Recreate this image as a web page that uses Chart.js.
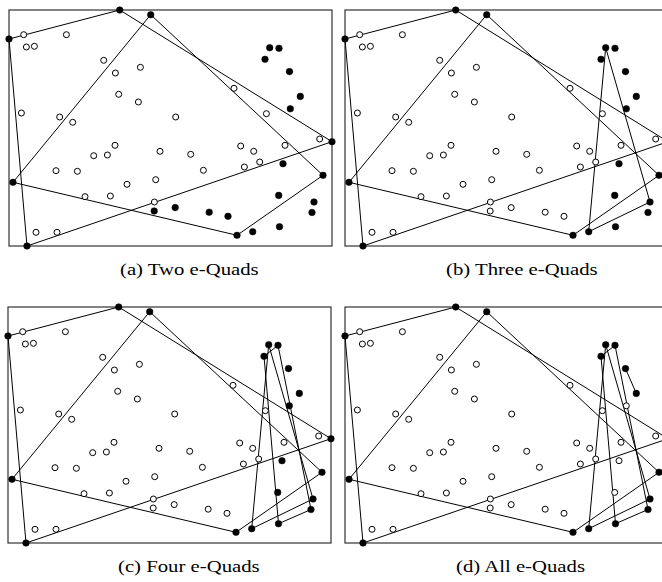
<!DOCTYPE html>
<html>
<head>
<meta charset="utf-8">
<title>e-Quads</title>
<script src="https://cdn.jsdelivr.net/npm/chart.js@4.4.0/dist/chart.umd.min.js"></script>
<style>
  html, body { margin: 0; padding: 0; background: #fff; overflow: hidden; }
  body { width: 662px; height: 582px; position: relative; }
  canvas { position: absolute; }
  .cap { position: absolute; font-family: "Liberation Serif", "Times New Roman", serif; font-size: 17px;
         line-height: 17px; color: #000; white-space: nowrap; transform-origin: 0 0; transform: scaleX(1.22); }
</style>
</head>
<body>

<canvas id="pa" width="335" height="248" style="left:3px;top:4px"></canvas>
<canvas id="pb" width="335" height="248" style="left:339px;top:4px"></canvas>
<canvas id="pc" width="335" height="248" style="left:2px;top:301px"></canvas>
<canvas id="pd" width="335" height="248" style="left:339px;top:301px"></canvas>

<div class="cap" style="left:120px;top:261px">(a) Two e-Quads</div>
<div class="cap" style="left:446px;top:261px">(b) Three e-Quads</div>
<div class="cap" style="left:118px;top:558px">(c) Four e-Quads</div>
<div class="cap" style="left:456px;top:558px">(d) All e-Quads</div>

<script>
// point set, same in every panel (x, y)
const openPts = [
  [14.7,211.3],[57.4,211.3],[17.4,199],[25.4,199.7],[94.7,185.7],[106.4,173],[131.4,178.7],
  [109.7,151.7],[129.4,144],[12.4,133],[50.7,129],[63.7,123.7],[225,157.7],[166.7,129],
  [257.4,132.3],[106,100.7],[84.7,90.3],[98.4,91],[151,94.7],[181.7,91.7],[231.7,100],
  [244.7,94.7],[276,100.7],[310.7,107],[47,75.3],[68.4,74.7],[194.4,75.7],[235.4,79],
  [250.7,84],[146.7,66.3],[118,61.7],[76,49.3],[101.4,50],[145.4,44],[27,13.7],[48,13.7]
];
// filled only in (a)
const extraA = [[145.2,35],[166.2,38.4],[200.2,33.8],[219,29.7]];
// filled in (a)-(c), open in (d)
const innerPts = [[281.3,137.2],[274,82.3],[269.7,50.6]];

// quad vertices
const quadA = [[0,207],[110.7,236],[323,104.3],[18,0]];
const quadB = [[141.7,231.3],[314,70.7],[228,10.7],[4,63.7]];
const quadC = [[260.7,198.3],[305,44],[243.7,14.3]];
const quadD = [[256,186.7],[270,197.7],[303,33.5],[270.5,19.3]];
const quadE = [[280.5,174.4],[291.3,149.6]];

function xy(list) {
  return list.map(p => ({ x: p[0], y: p[1] }));
}

function closed(list) {
  const pts = xy(list);
  if (list.length > 2) pts.push(pts[0]);
  return pts;
}

const boxPlugin = {
  id: 'box',
  beforeDatasetsDraw(chart) {
    const a = chart.chartArea;
    const ctx = chart.ctx;
    ctx.save();
    ctx.strokeStyle = '#333';
    ctx.lineWidth = 1.2;
    ctx.strokeRect(a.left, a.top, a.right - a.left, a.bottom - a.top);
    ctx.restore();
  }
};

function makePanel(id, filled, open, quads) {
  const datasets = [];
  datasets.push({
    data: xy(filled), pointRadius: 3.3, pointBackgroundColor: '#000',
    pointBorderColor: '#000', pointBorderWidth: 0.5, showLine: false, clip: false
  });
  datasets.push({
    data: xy(open), pointRadius: 3, pointBackgroundColor: '#fff',
    pointBorderColor: '#000', pointBorderWidth: 1, showLine: false, clip: false
  });
  quads.forEach(q => {
    datasets.push({
      data: closed(q), showLine: true, pointRadius: 0, borderColor: '#000',
      borderWidth: 1, tension: 0, fill: false, clip: false
    });
  });

  new Chart(document.getElementById(id), {
    type: 'scatter',
    data: { datasets: datasets },
    options: {
      responsive: false,
      animation: false,
      events: [],
      layout: { padding: 6 },
      plugins: { legend: { display: false }, tooltip: { enabled: false } },
      scales: {
        x: { type: 'linear', min: 0, max: 323, display: false },
        y: { type: 'linear', min: 0, max: 236, display: false }
      }
    },
    plugins: [boxPlugin]
  });
}

const hullPts = [].concat(quadA, quadB);
const fillBC = [].concat(hullPts, quadC, quadD, quadE, innerPts);

makePanel('pa', fillBC.concat(extraA), openPts, [quadA, quadB]);
makePanel('pb', fillBC, openPts.concat(extraA), [quadA, quadB, quadC]);
makePanel('pc', fillBC, openPts.concat(extraA), [quadA, quadB, quadC, quadD]);
makePanel('pd', [].concat(hullPts, quadC, quadD, quadE), openPts.concat(extraA, innerPts),
          [quadA, quadB, quadC, quadD, quadE]);
</script>
</body>
</html>
